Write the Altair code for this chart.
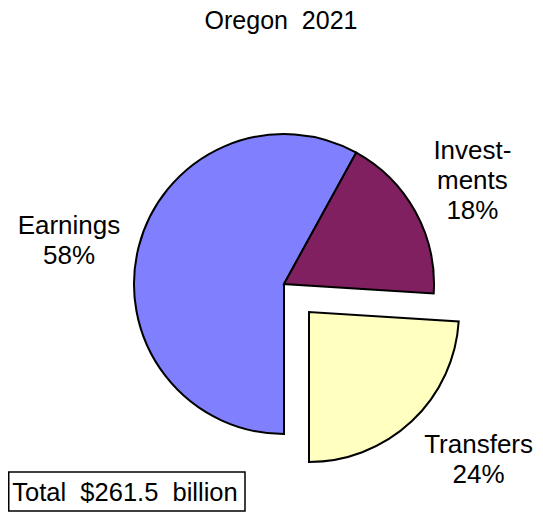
import math
import altair as alt
import pandas as pd

categories = ["Earnings", "Investments", "Transfers"]
shares = [58, 18, 24]
label_text = ["Earnings\n58%", "Invest-\nments\n18%", "Transfers\n24%"]
colors = ["#8080FF", "#802060", "#FFFFC0"]
NB = "\u00a0"
title_text = "Oregon " + NB + "2021"
total_text = "Total " + NB + "$261.5 " + NB + "billion"

df = pd.DataFrame({
    "cat": categories,
    "share": shares,
    "label": label_text,
    "idx": list(range(len(categories))),
})

FONT = "Liberation Sans"
theta = alt.Theta("share:Q", stack=True,
                  scale=alt.Scale(range=[math.pi, 3 * math.pi]))
color = alt.Color("cat:N", scale=alt.Scale(domain=categories, range=colors),
                  legend=None)
order = alt.Order("idx:Q")

base = alt.Chart(df)

CX, CY = 276, 276          # pie centre (view coords)
EX, EY = 301, 304          # exploded slice centre


def only(cat):
    return alt.condition(alt.datum.cat == cat, alt.value(1), alt.value(0))


def not_(cat):
    return alt.condition(alt.datum.cat == cat, alt.value(0), alt.value(1))


pie_main = base.mark_arc(stroke="black", strokeWidth=2, outerRadius=150).encode(
    theta=theta, color=color, order=order,
    x=alt.value(CX), y=alt.value(CY), opacity=not_("Transfers"),
)
pie_tr = base.mark_arc(stroke="black", strokeWidth=2, outerRadius=150).encode(
    theta=theta, color=color, order=order,
    x=alt.value(EX), y=alt.value(EY), opacity=only("Transfers"),
)


def label_layer(cat, cx, cy, radius, dx, dy):
    return base.mark_text(radius=radius, font=FONT, fontSize=26, lineHeight=30,
                          lineBreak="\n", align="center", baseline="middle",
                          color="black", dx=dx, dy=dy).encode(
        theta=theta, order=order, text="label:N",
        x=alt.value(cx), y=alt.value(cy), opacity=only(cat),
    )


txt_e = label_layer("Earnings", CX, CY, 222, 0, -3)
txt_i = label_layer("Investments", CX, CY, 215, 0, -29)
txt_t = label_layer("Transfers", EX, EY, 220, 19, -27)

title = alt.Chart(pd.DataFrame({"t": [title_text]})).mark_text(
    font=FONT, fontSize=25, align="center", baseline="top", color="black"
).encode(text="t:N", x=alt.value(273), y=alt.value(1))

box = alt.Chart(pd.DataFrame({"t": [total_text]})).mark_rect(
    fill="white", stroke="black", strokeWidth=1.5
).encode(x=alt.value(0.75), x2=alt.value(237), y=alt.value(464), y2=alt.value(503))

box_txt = alt.Chart(pd.DataFrame({"t": [total_text]})).mark_text(
    font=FONT, fontSize=25.5, align="center", baseline="middle", color="black"
).encode(text="t:N", x=alt.value(117), y=alt.value(485))

chart = alt.layer(pie_main, pie_tr, txt_e, txt_i, txt_t, title, box, box_txt).properties(
    width=527, height=504,
    autosize=alt.AutoSizeParams(type="none"),
    padding=0,
    background="white",
).configure_view(strokeWidth=0, stroke=None)

chart.save("out.html", embed_options={"renderer": "svg", "actions": False})
